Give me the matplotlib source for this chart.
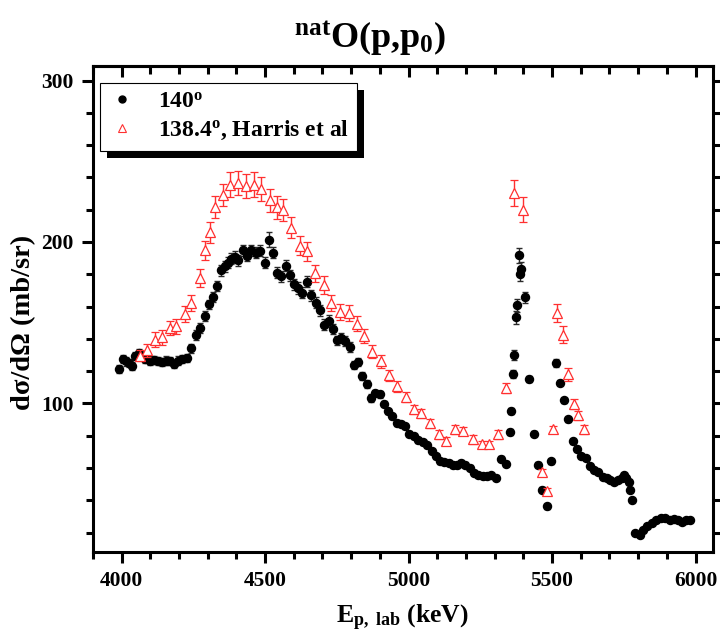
import matplotlib
matplotlib.use("Agg")
import matplotlib.pyplot as plt
from matplotlib.lines import Line2D
from matplotlib.patches import Rectangle
from matplotlib.ticker import MultipleLocator

plt.rcParams['font.family'] = ['Liberation Serif', 'DejaVu Serif']
plt.rcParams['font.weight'] = 'bold'
plt.rcParams['mathtext.fontset'] = 'custom'
plt.rcParams['mathtext.rm'] = 'Liberation Serif:bold'
plt.rcParams['mathtext.it'] = 'Liberation Serif:bold:italic'
plt.rcParams['mathtext.bf'] = 'Liberation Serif:bold'

# ---- data: 140 deg (this work) ----
e140 = [3990, 4006, 4016, 4027, 4036, 4046, 4060, 4081, 4098, 4112,
        4127, 4141, 4155, 4169, 4183, 4197, 4211, 4228, 4243, 4258,
        4273, 4289, 4303, 4318, 4333, 4347, 4359, 4370, 4382, 4396,
        4407, 4423, 4437, 4451, 4468, 4482, 4498, 4513, 4527, 4541,
        4556, 4573, 4588, 4602, 4616, 4630, 4646, 4661, 4676, 4692,
        4707, 4721, 4735, 4750, 4764, 4779, 4795, 4810, 4824, 4839,
        4854, 4868, 4883, 4899, 4914, 4929, 4943, 4958, 4972, 4987,
        5003, 5018, 5034, 5050, 5065, 5080, 5094, 5109, 5125, 5140,
        5155, 5169, 5184, 5198, 5213, 5227, 5242, 5258, 5273, 5288,
        5304, 5323, 5339, 5354, 5358, 5364, 5368, 5374, 5377, 5384,
        5388, 5392, 5407, 5421, 5436, 5452, 5466, 5481, 5496, 5513,
        5528, 5543, 5557, 5572, 5587, 5601, 5617, 5632, 5646, 5661,
        5676, 5690, 5701, 5715, 5730, 5742, 5750, 5759, 5767, 5771,
        5777, 5789, 5806, 5817, 5832, 5847, 5863, 5878, 5893, 5910,
        5925, 5940, 5953, 5967, 5979]
xs140 = [121.5, 127.7, 126.0, 124.8, 123.1, 129.3, 131.4, 127.7, 126.6, 126.8,
         126.4, 125.6, 126.6, 126.2, 124.6, 126.6, 127.7, 127.9, 134.1, 142.3,
         146.9, 154.3, 161.3, 166.1, 172.6, 182.4, 185.0, 187.1, 189.6, 190.8,
         188.7, 194.9, 191.6, 194.9, 193.3, 194.7, 187.1, 201.5, 193.3, 180.9,
         178.8, 185.4, 179.4, 173.7, 171.6, 168.7, 175.5, 166.9, 162.4, 157.6,
         148.7, 151.0, 146.3, 139.0, 140.4, 138.6, 134.9, 123.7, 125.8, 116.9,
         112.2, 103.5, 106.6, 105.6, 99.8, 95.2, 92.1, 87.6, 87.4, 85.9,
         81.4, 79.8, 77.1, 76.0, 74.0, 70.5, 67.4, 64.3, 63.9, 63.3,
         61.6, 61.8, 63.3, 62.2, 60.2, 57.1, 56.0, 55.0, 55.0, 55.4,
         54.0, 65.8, 62.7, 82.2, 95.2, 118.0, 129.9, 153.4, 160.9, 191.8,
         179.9, 183.4, 165.8, 115.3, 81.4, 62.2, 46.7, 36.4, 64.1, 124.8,
         112.8, 101.9, 90.1, 76.7, 72.0, 67.4, 66.0, 61.2, 59.1, 57.7,
         54.6, 54.0, 52.5, 51.3, 52.5, 53.6, 55.4, 54.0, 51.5, 46.7,
         40.1, 19.9, 18.5, 21.5, 24.0, 25.7, 27.7, 28.8, 29.2, 27.7,
         28.2, 27.7, 26.5, 27.7, 27.7]
err140 = [2.5, 2.5, 2.5, 2.5, 2.5, 2.5, 2.5, 2.5, 2.5, 2.5,
          2.5, 2.5, 2.5, 2.5, 2.5, 2.5, 2.5, 2.5, 3.0, 3.0,
          3.0, 3.0, 3.0, 3.0, 3.0, 3.5, 3.5, 3.5, 3.5, 3.5,
          3.5, 3.5, 3.5, 3.5, 3.5, 3.5, 3.5, 4.5, 3.5, 3.5,
          3.5, 3.5, 3.5, 3.5, 3.5, 3.5, 3.5, 3.5, 3.5, 3.5,
          3.5, 3.5, 3.0, 3.0, 3.0, 3.0, 3.0, 2.5, 2.5, 2.5,
          2.5, 2.5, 2.0, 2.0, 1.5, 1.5, 1.5, 1.5, 1.5, 1.5,
          1.5, 1.5, 1.5, 1.5, 1.5, 1.5, 1.5, 1.5, 1.5, 1.5,
          1.5, 1.5, 1.5, 1.5, 1.5, 1.5, 1.5, 1.5, 1.5, 1.5,
          1.5, 1.5, 1.5, 2.0, 2.0, 2.5, 3.0, 4.0, 4.0, 4.5,
          4.0, 4.0, 3.5, 2.0, 1.5, 1.5, 1.5, 1.5, 1.5, 2.5,
          1.5, 1.5, 1.5, 1.5, 1.5, 1.0, 1.0, 1.0, 1.0, 1.0,
          1.0, 1.0, 1.0, 1.0, 1.0, 1.0, 1.0, 1.0, 1.0, 1.0,
          1.0, 1.0, 1.0, 1.0, 1.0, 1.0, 1.0, 1.0, 1.0, 1.0,
          1.0, 1.0, 1.0, 1.0, 1.0]

# ---- data: 138.4 deg, Harris et al ----
eH = [4065, 4090, 4116, 4141, 4167, 4191, 4220, 4243, 4273, 4289,
      4309, 4324, 4353, 4377, 4405, 4432, 4460, 4486, 4516, 4540,
      4561, 4590, 4620, 4647, 4675, 4704, 4730, 4760, 4791, 4819,
      4845, 4872, 4903, 4932, 4961, 4990, 5018, 5045, 5073, 5105,
      5132, 5161, 5190, 5223, 5256, 5281, 5311, 5340, 5369, 5398,
      5464, 5484, 5502, 5516, 5539, 5554, 5577, 5589, 5612]
xsH = [129.5, 133.0, 139.6, 141.0, 146.6, 147.7, 155.6, 162.3, 177.5, 194.9,
       205.9, 221.6, 229.0, 235.6, 236.7, 234.6, 235.6, 232.9, 225.7, 221.5,
       219.7, 208.8, 197.8, 194.3, 180.5, 173.3, 162.3, 156.8, 156.1, 149.5,
       141.7, 132.0, 126.2, 117.5, 110.7, 104.1, 96.3, 93.8, 87.6, 80.8,
       76.7, 83.9, 82.9, 77.7, 74.6, 74.6, 80.8, 109.7, 230.5, 220.1,
       57.7, 45.7, 83.9, 156.2, 142.7, 118.0, 99.8, 92.6, 83.9]
errH = [3.5, 4.0, 4.5, 4.5, 4.5, 4.5, 5.0, 5.0, 5.5, 6.0,
        6.5, 7.0, 7.0, 7.5, 7.5, 7.5, 7.5, 7.5, 7.0, 7.0,
        7.0, 6.5, 6.0, 6.0, 5.5, 5.5, 5.0, 5.0, 5.0, 4.5,
        4.5, 4.0, 4.0, 3.5, 3.5, 3.0, 3.0, 3.0, 2.5, 2.5,
        2.5, 2.5, 2.5, 2.5, 2.0, 2.0, 2.5, 3.0, 8.0, 7.5,
        2.0, 2.0, 2.0, 5.5, 5.0, 4.0, 3.0, 3.0, 2.5]

title_text = r'$^{\mathrm{nat}}$O(p,p$_{\mathrm{0}}$)'
xlabel_text = r'E$_{\mathrm{p,\ lab}}$ (keV)'
ylabel_text = 'dσ/dΩ (mb/sr)'
label140 = r'140$^{\mathrm{o}}$'
labelH = r'138.4$^{\mathrm{o}}$, Harris et al'

fig = plt.figure(figsize=(7.2, 6.37), dpi=100)
ax = fig.add_axes([0.129, 0.1334, 0.861, 0.763])

ax.errorbar(e140, xs140, yerr=err140, fmt='o', color='black', ms=5.8,
            ecolor='#2a2a2a', elinewidth=1.0, capsize=2.5, capthick=1.0,
            zorder=3)
ax.errorbar(eH, xsH, yerr=errH, fmt='^', mfc='white', mec='#ff3030',
            mew=0.9, ms=7.8, ecolor='#ff3030', elinewidth=1.0,
            capsize=2.8, capthick=1.0, zorder=4)

ax.set_xlim(3900, 6060)
ax.set_ylim(8, 309)
ax.xaxis.set_major_locator(MultipleLocator(500))
ax.xaxis.set_minor_locator(MultipleLocator(100))
ax.yaxis.set_major_locator(MultipleLocator(100))
ax.yaxis.set_minor_locator(MultipleLocator(20))

for sp in ax.spines.values():
    sp.set_linewidth(2.2)

ax.tick_params(axis='both', which='major', direction='out', length=8,
               width=2.2, labelsize=15.5, pad=6)
ax.tick_params(axis='both', which='minor', direction='out', length=5,
               width=2.2)
ax.tick_params(top=False, right=True, which='both')
for lab in ax.get_xticklabels() + ax.get_yticklabels():
    lab.set_fontweight('bold')

# top ticks pointing inward
secx = ax.secondary_xaxis('top')
secx.xaxis.set_major_locator(MultipleLocator(500))
secx.xaxis.set_minor_locator(MultipleLocator(100))
secx.tick_params(axis='x', which='major', direction='in', length=8, width=2.2,
                 labeltop=False)
secx.tick_params(axis='x', which='minor', direction='in', length=6, width=2.2)
secx.spines['top'].set_linewidth(2.2)

fig.text(370 / 720, 1 - 48 / 637, title_text, fontsize=26, fontweight='bold',
         ha='center', va='baseline')
ax.set_xlabel(xlabel_text, fontsize=18.5, fontweight='bold', labelpad=8)
ax.set_ylabel(ylabel_text, fontsize=20.5, fontweight='bold')
ax.yaxis.set_label_coords(-0.092, 0.473)

handles = [Line2D([], [], ls='none', marker='o', color='black', ms=5),
           Line2D([], [], ls='none', marker='^', mfc='white', mec='#ff3030',
                  mew=0.8, ms=6)]
leg = ax.legend(handles, [label140, labelH], loc='upper left',
                bbox_to_anchor=(0.011, 0.966), borderaxespad=0,
                frameon=True, fancybox=False,
                edgecolor='black', framealpha=1, borderpad=0.35,
                handletextpad=0.9, handlelength=1.2, labelspacing=0.3,
                prop={'family': 'Liberation Serif', 'weight': 'bold',
                      'size': 17})
leg.get_frame().set_linewidth(0.8)
leg.set_zorder(6)

fig.canvas.draw()
bb = leg.get_window_extent()
shadow = Rectangle((bb.x0 + 7, bb.y0 - 7), bb.width, bb.height,
                   transform=None, facecolor='black', edgecolor='none',
                   zorder=5.5, clip_on=False)
ax.add_artist(shadow)

fig.savefig('out.png', dpi=100)
